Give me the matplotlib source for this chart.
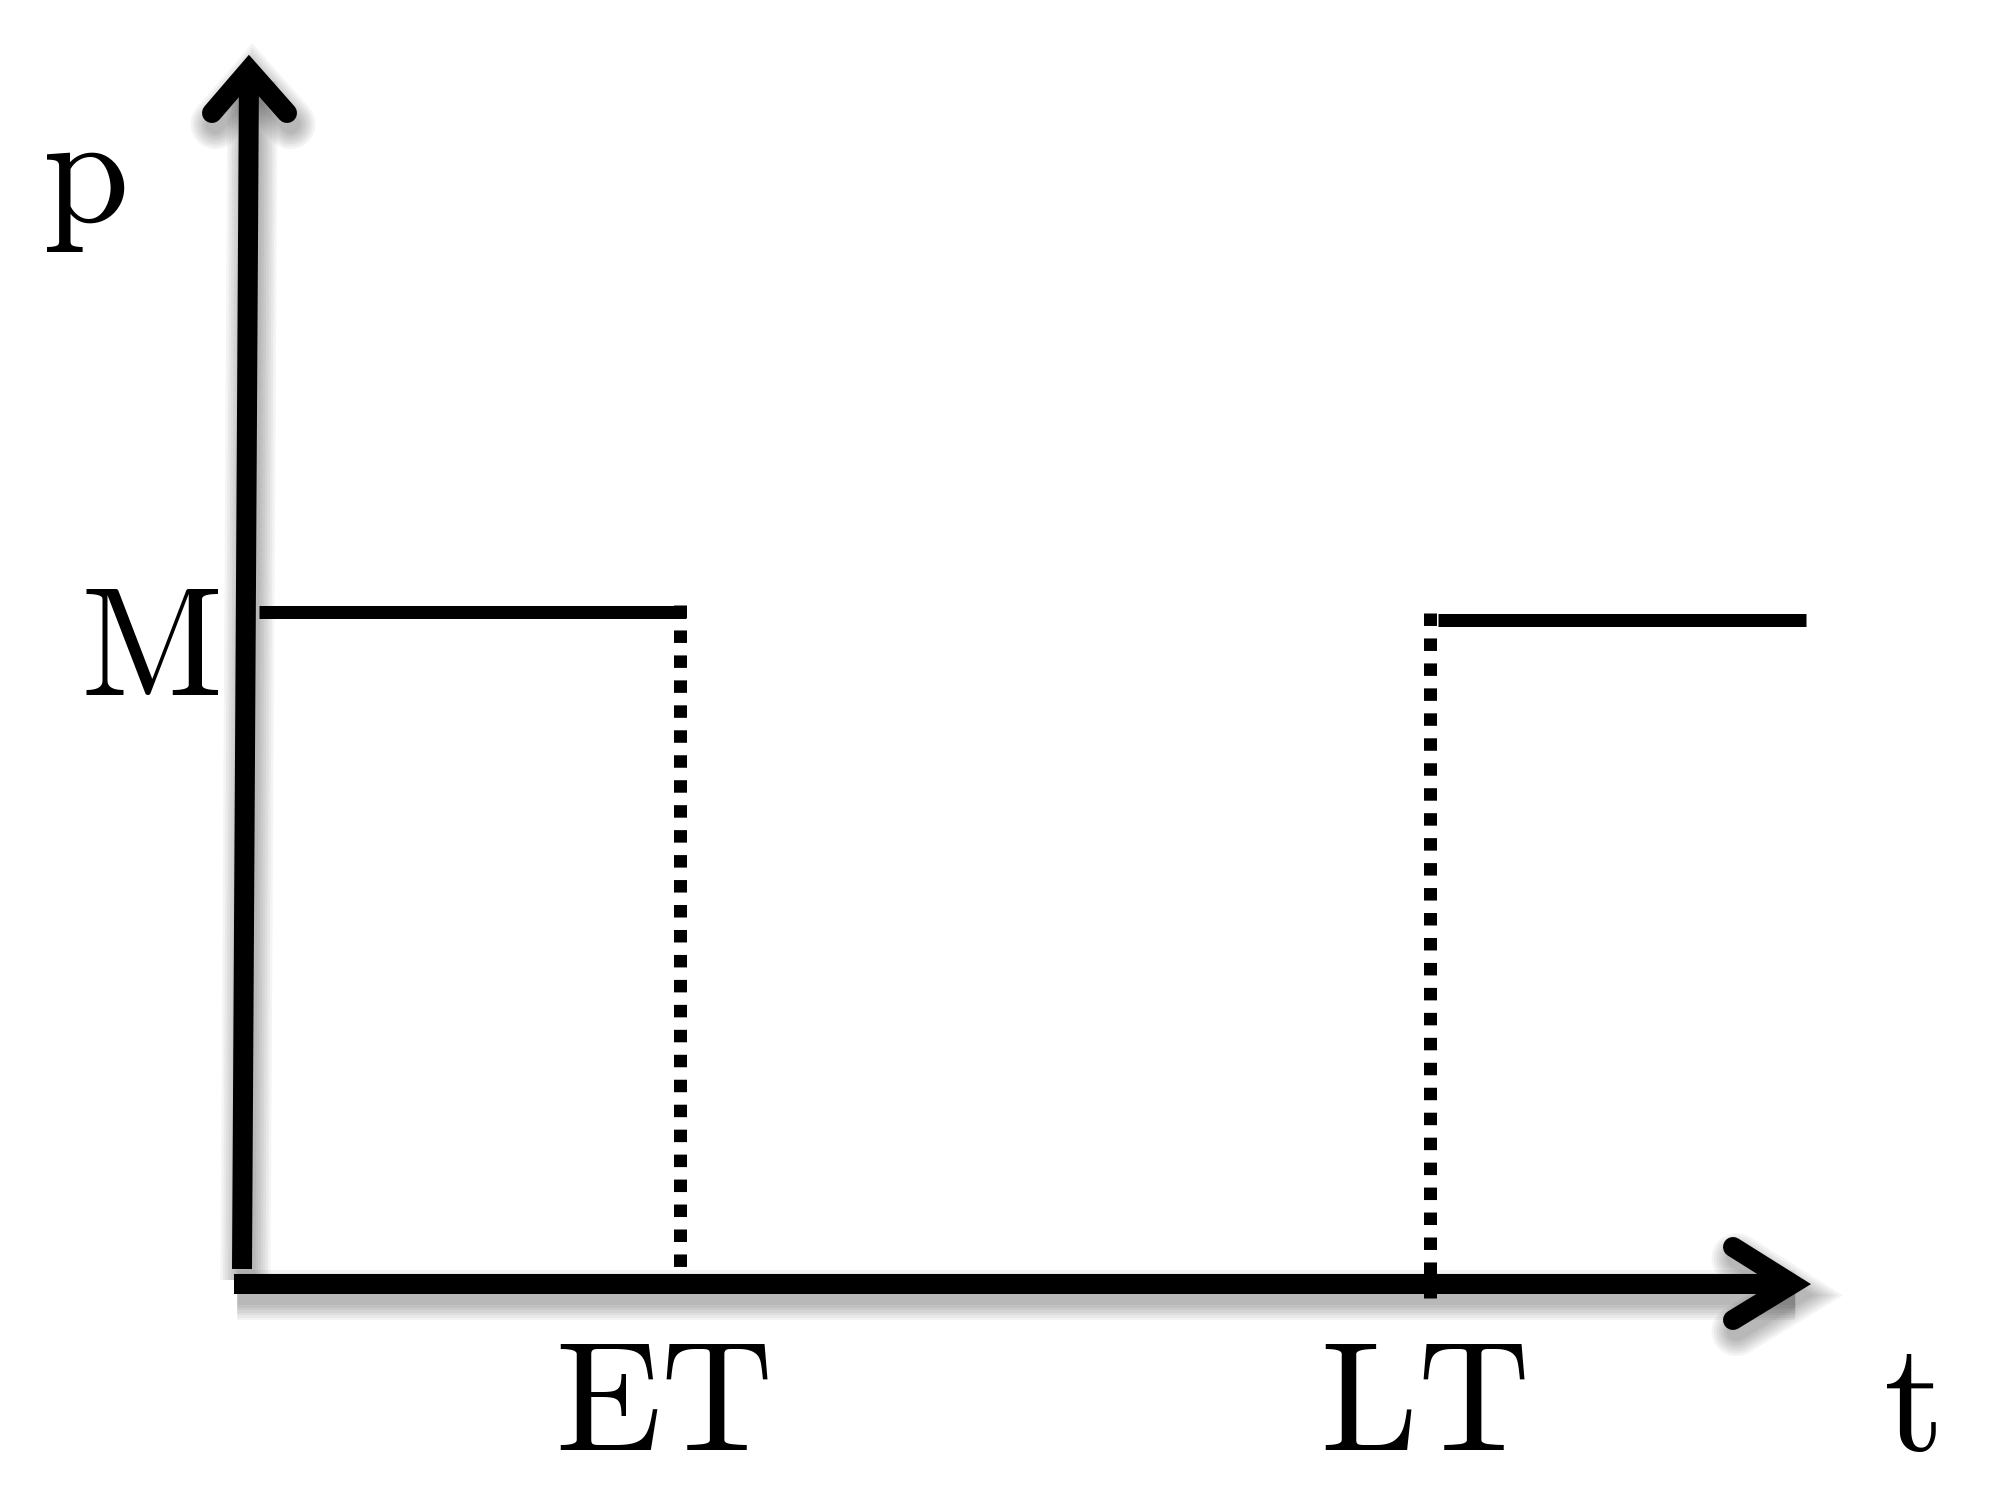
import matplotlib
matplotlib.use('Agg')
import matplotlib.pyplot as plt
import matplotlib.patheffects as pe

plt.rcParams['mathtext.fontset'] = 'cm'

# ---- data (t along horizontal, p along vertical) ----
ET = 4.375
LT = 11.88
M_before = 6.725
M_after = 6.645
seg_before_t = [0.17, 4.44]
seg_after_t = [11.96, 15.64]
ET_drop_p = [6.79, 0.12]
LT_drop_p = [6.71, -0.14]

x_axis_t = [-0.08, 15.50]
x_axis_p = [0.0, 0.0]
x_head_t = [14.91, 15.50, 14.91]
x_head_p = [0.37, 0.0, -0.36]
y_axis_t = [0.0, 0.07]
y_axis_p = [0.15, 12.14]
y_head_t = [-0.30, 0.07, 0.45]
y_head_p = [11.71, 12.14, 11.71]

labels = ['p', 'M', 'ET', 'LT', 't']
label_t = [-1.58, -0.23, 4.20, 11.81, 16.68]
label_p = [10.62, 5.89, -1.66, -1.66, -1.66]
label_ha = ['center', 'right', 'center', 'center', 'center']

PX = 0.72  # points per pixel at dpi 100

fig = plt.figure(figsize=(20, 15.09), dpi=100)
ax = fig.add_axes([0, 0, 1, 1])
ax.set_xlim(-2.42, 17.58)
ax.set_ylim(-2.25, 12.84)
ax.axis('off')


def shadow(lw_px):
    eff = []
    for k in range(7):
        eff.append(pe.SimpleLineShadow(offset=(2.5, -8), shadow_color='black',
                                       alpha=0.045, linewidth=(lw_px + 5 * k) * PX))
    eff.append(pe.Normal())
    return eff

AX_LW = 20
# axes
ax.plot(x_axis_t, x_axis_p, color='black', lw=AX_LW * PX, solid_capstyle='butt',
        path_effects=shadow(AX_LW), zorder=2)
ax.plot(x_head_t, x_head_p, color='black', lw=AX_LW * PX, solid_capstyle='round',
        solid_joinstyle='miter', path_effects=shadow(AX_LW), zorder=2)
ax.plot(y_axis_t, y_axis_p, color='black', lw=AX_LW * PX, solid_capstyle='butt',
        path_effects=shadow(AX_LW), zorder=2)
ax.plot(y_head_t, y_head_p, color='black', lw=AX_LW * PX, solid_capstyle='round',
        solid_joinstyle='miter', path_effects=shadow(AX_LW), zorder=2)

# price levels
LW = 13
ax.plot(seg_before_t, [M_before, M_before], color='black', lw=LW * PX,
        solid_capstyle='butt', zorder=3)
ax.plot(seg_after_t, [M_after, M_after], color='black', lw=LW * PX,
        solid_capstyle='butt', zorder=3)

# dotted drops
ax.plot([ET, ET], ET_drop_p, color='black', lw=LW * PX, dashes=(0.96, 0.96),
        dash_capstyle='butt', zorder=3)
ax.plot([LT, LT], LT_drop_p, color='black', lw=LW * PX, dashes=(0.96, 0.96),
        dash_capstyle='butt', zorder=3)

for s, x, y, ha in zip(labels, label_t, label_p, label_ha):
    ax.text(x, y, r'$\mathrm{' + s + '}$', fontsize=112, ha=ha,
            va='baseline', color='black')

fig.savefig('out.png', dpi=100, facecolor='white')
